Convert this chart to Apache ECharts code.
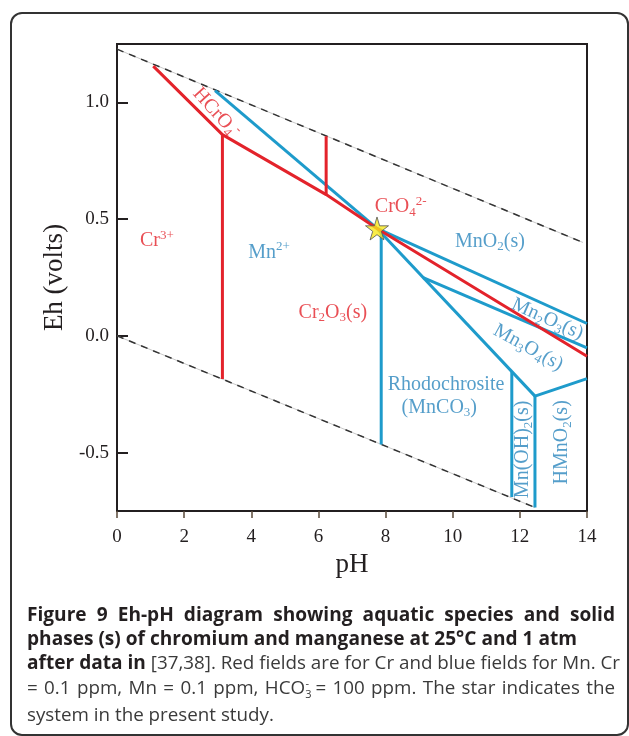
<!DOCTYPE html>
<html>
<head>
<meta charset="utf-8">
<script src="https://cdn.jsdelivr.net/npm/echarts@6/dist/echarts.min.js"></script>
<style>
  html, body { margin: 0; padding: 0; background: #fff; }
  #frame {
    position: absolute; left: 10px; top: 12px; width: 615px; height: 720px;
    border: 2px solid #333; border-radius: 12px; pointer-events: none;
  }
  #chart { position: absolute; left: 0; top: 0; width: 629px; height: 736px; }
  #caption {
    position: absolute; left: 27px; top: 602px; width: 588px;
    font-family: "Open Sans", sans-serif; font-size: 18.8px; line-height: 24.2px;
    color: #3a3a3a; white-space: nowrap;
  }
  #caption .j { text-align: justify; text-align-last: justify; }
  #caption b { color: #231f20; font-size: 19.1px; }
  .ss { position: relative; font-size: 11px; }
  .sub { top: 4px; }
  .sup { top: -7px; margin-left: -6px; }
</style>
</head>
<body>
<div id="chart"></div>
<div id="frame"></div>
<div id="caption">
  <div class="j"><b>Figure 9 Eh-pH diagram showing aquatic species and solid</b></div>
  <div><b>phases (s) of chromium and manganese at 25°C and 1 atm</b></div>
  <div class="j"><b>after data in</b> [37,38]. Red fields are for Cr and blue fields for Mn. Cr</div>
  <div class="j">= 0.1 ppm, Mn = 0.1 ppm, HCO<span class="ss sub">3</span><span class="ss sup">-</span> = 100 ppm. The star indicates the</div>
  <div>system in the present study.</div>
</div>
<script>
// water stability limits (dashed)
const waterUpper = [[0, 1.228], [13.88, 0.40]]
const waterLower = [[0, 0.0], [12.45, -0.735]]

// Cr field boundaries (red)
const crBoundaries = [
  [[1.08, 1.155], [3.14, 0.862], [6.23, 0.605], [7.745, 0.46], [14, -0.087]],
  [[3.14, 0.862], [3.14, -0.185]],
  [[6.23, 0.855], [6.23, 0.605]]
]

// Mn field boundaries (blue)
const mnBoundaries = [
  [[2.92, 1.05], [7.745, 0.46]],
  [[7.745, 0.46], [14, 0.053]],
  [[7.745, 0.46], [12.45, -0.258]],
  [[9.12, 0.249], [14, -0.051]],
  [[7.87, 0.45], [7.87, -0.465]],
  [[11.76, -0.155], [11.76, -0.69]],
  [[12.45, -0.258], [12.45, -0.735]],
  [[12.45, -0.258], [14, -0.183]]
]

// present study
const studyPoint = [[7.745, 0.46]]

const yTicks = [-0.5, 0, 0.5, 1.0]

// field labels: text, pH, Eh, rotation
const crLabels = [
  ['{n|Cr}{sup|3+}', 1.19, 0.408, 0],
  ['{n|HCrO}{sub|4}{sup|-}', 2.95, 0.956, -48],
  ['{n|CrO}{sub|4}{sup|2-}', 8.45, 0.553, 0],
  ['{n|Cr}{sub|2}{n|O}{sub|3}{n|(s)}', 6.43, 0.10, 0]
]
const mnLabels = [
  ['{n|Mn}{sup|2+}', 4.53, 0.357, 0],
  ['{n|MnO}{sub|2}{n|(s)}', 11.11, 0.404, 0],
  ['{n|Rhodochrosite}', 9.8, -0.208, 0],
  ['{n|(MnCO}{sub|3}{n|)}', 9.6, -0.307, 0],
  ['{n|Mn}{sub|2}{n|O}{sub|3}{n|(s)}', 12.82, 0.072, -24],
  ['{n|Mn}{sub|3}{n|O}{sub|4}{n|(s)}', 12.25, -0.05, -29],
  ['{n|Mn(OH)}{sub|2}{n|(s)}', 12.1, -0.486, 90],
  ['{n|HMnO}{sub|2}{n|(s)}', 13.25, -0.456, 90]
]

const RED = '#e3232b'
const BLUE = '#1e9bcb'
const AXIS = '#231f20'
const SERIF = 'Liberation Serif'

function richFor (color) {
  return {
    n: { fontFamily: SERIF, fontSize: 20, color: color, lineHeight: 24 },
    sub: { fontFamily: SERIF, fontSize: 13, color: color, verticalAlign: 'bottom' },
    sup: { fontFamily: SERIF, fontSize: 13, color: color, verticalAlign: 'top' }
  }
}

function labelSeries (list, color) {
  return {
    type: 'scatter',
    symbolSize: 0,
    silent: true,
    z: 5,
    data: list.map(l => ({
      value: [l[1], l[2]],
      label: { formatter: l[0], rotate: l[3] }
    })),
    label: { show: true, position: 'inside', rich: richFor(color) }
  }
}

function lineSeries (data, color, width, z) {
  return {
    type: 'line',
    data: data,
    symbol: 'none',
    silent: true,
    z: z,
    lineStyle: { color: color, width: width }
  }
}

const series = []
;[waterUpper, waterLower].forEach(w => {
  series.push(lineSeries(w, '#c8c8c8', 1, 2))
  const s = lineSeries(w, '#333', 1.5, 2)
  s.lineStyle.type = [7, 6]
  series.push(s)
})
mnBoundaries.forEach(b => series.push(lineSeries(b, BLUE, 3, 3)))
crBoundaries.forEach(b => series.push(lineSeries(b, RED, 3, 4)))
series.push(labelSeries(crLabels, RED))
series.push(labelSeries(mnLabels, '#2a86bd'))
series.push({
  type: 'scatter',
  data: studyPoint,
  symbol: 'path://M50,0 L61,35 L98,35 L68,57 L79,91 L50,70 L21,91 L32,57 L2,35 L39,35 Z',
  symbolSize: 23,
  z: 10,
  itemStyle: { color: '#f8e71c', borderColor: '#555', borderWidth: 1 }
})

const chart = echarts.init(document.getElementById('chart'))
chart.setOption({
  animation: false,
  backgroundColor: 'transparent',
  grid: {
    left: 117, right: 42, top: 44, bottom: 225,
    show: true, borderColor: AXIS, borderWidth: 2
  },
  xAxis: {
    type: 'value',
    min: 0,
    max: 14,
    interval: 2,
    name: 'pH',
    nameLocation: 'middle',
    nameGap: 30,
    nameTextStyle: { fontFamily: SERIF, fontSize: 27, color: AXIS },
    axisLine: { onZero: false, lineStyle: { color: AXIS, width: 2 } },
    axisTick: { length: 7, lineStyle: { color: '#5a4a3a', width: 1.5 } },
    axisLabel: { fontFamily: SERIF, fontSize: 19, color: AXIS, margin: 17 },
    splitLine: { show: false }
  },
  yAxis: {
    type: 'value',
    min: -0.75,
    max: 1.25,
    name: 'Eh (volts)',
    nameLocation: 'middle',
    nameGap: 46,
    nameTextStyle: { fontFamily: SERIF, fontSize: 27, color: AXIS },
    axisLine: { onZero: false, lineStyle: { color: AXIS, width: 2 } },
    axisTick: { inside: true, length: 11, customValues: yTicks, lineStyle: { color: AXIS, width: 2 } },
    axisLabel: {
      fontFamily: SERIF, fontSize: 19, color: AXIS, margin: 8,
      customValues: yTicks,
      formatter: v => v.toFixed(1)
    },
    splitLine: { show: false }
  },
  series: series
})
</script>
</body>
</html>
